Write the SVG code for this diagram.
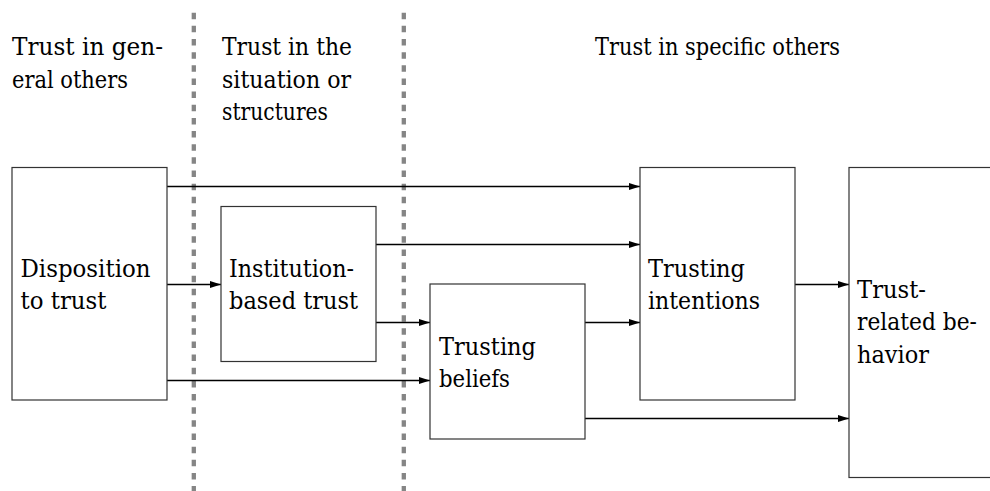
<svg xmlns="http://www.w3.org/2000/svg" width="990" height="491" viewBox="0 0 990 491">
  <style>
    .lbl { font-family: "DejaVu Serif", "Liberation Serif", serif; font-size: 23.5px; fill: #000; }
    .box { fill: #fff; stroke: #333; stroke-width: 1.2; }
    .sep { stroke: #858585; stroke-width: 4.3; stroke-dasharray: 6.5 6.65; fill: none; }
    .edge { stroke: #000; stroke-width: 1.6; fill: none; marker-end: url(#tip); }
  </style>
  <defs>
    <marker id="tip" markerWidth="11" markerHeight="8" refX="11" refY="4" orient="auto" markerUnits="userSpaceOnUse">
      <path d="M0,0.6 L11,4 L0,7.4 Z" fill="#000"/>
    </marker>
  </defs>
  <rect width="990" height="491" fill="#fff"/>

  <!-- column separators -->
  <g id="separators">
    <line class="sep" x1="193.8" y1="12.7" x2="193.8" y2="491"/>
    <line class="sep" x1="403.8" y1="12.7" x2="403.8" y2="491"/>
  </g>

  <!-- column headings -->
  <g id="headings" class="lbl">
    <text x="12" y="55" textLength="151" lengthAdjust="spacingAndGlyphs">Trust in gen-</text>
    <text x="12" y="88" textLength="116" lengthAdjust="spacingAndGlyphs">eral others</text>
    <text x="222" y="55" textLength="130" lengthAdjust="spacingAndGlyphs">Trust in the</text>
    <text x="222" y="88" textLength="129" lengthAdjust="spacingAndGlyphs">situation or</text>
    <text x="222" y="120" textLength="106" lengthAdjust="spacingAndGlyphs">structures</text>
    <text x="595" y="55" textLength="245" lengthAdjust="spacingAndGlyphs">Trust in specific others</text>
  </g>

  <!-- connectors -->
  <g id="connectors">
    <line class="edge" x1="167" y1="186.5" x2="640" y2="186.5"/>
    <line class="edge" x1="376" y1="244.5" x2="640" y2="244.5"/>
    <line class="edge" x1="167" y1="284.5" x2="221" y2="284.5"/>
    <line class="edge" x1="376" y1="322.5" x2="430" y2="322.5"/>
    <line class="edge" x1="167" y1="380.5" x2="430" y2="380.5"/>
    <line class="edge" x1="585" y1="322.5" x2="640" y2="322.5"/>
    <line class="edge" x1="795" y1="284.5" x2="849" y2="284.5"/>
    <line class="edge" x1="585" y1="418.5" x2="849" y2="418.5"/>
  </g>

  <g id="disposition" class="lbl">
    <rect class="box" x="12" y="167.5" width="155" height="232.5"/>
    <text x="20.5" y="277" textLength="130" lengthAdjust="spacingAndGlyphs">Disposition</text>
    <text x="20.5" y="309" textLength="86" lengthAdjust="spacingAndGlyphs">to trust</text>
  </g>

  <g id="institution" class="lbl">
    <rect class="box" x="221" y="206.5" width="155" height="155"/>
    <text x="229" y="277" textLength="125" lengthAdjust="spacingAndGlyphs">Institution-</text>
    <text x="229" y="309" textLength="129" lengthAdjust="spacingAndGlyphs">based trust</text>
  </g>

  <g id="beliefs" class="lbl">
    <rect class="box" x="430" y="284" width="155" height="155"/>
    <text x="439" y="355" textLength="97" lengthAdjust="spacingAndGlyphs">Trusting</text>
    <text x="439" y="387" textLength="71" lengthAdjust="spacingAndGlyphs">beliefs</text>
  </g>

  <g id="intentions" class="lbl">
    <rect class="box" x="640" y="167.5" width="155" height="232.5"/>
    <text x="648" y="277" textLength="97" lengthAdjust="spacingAndGlyphs">Trusting</text>
    <text x="648" y="309" textLength="112" lengthAdjust="spacingAndGlyphs">intentions</text>
  </g>

  <g id="behavior" class="lbl">
    <rect class="box" x="849" y="167.5" width="160" height="310"/>
    <text x="857" y="298" textLength="69" lengthAdjust="spacingAndGlyphs">Trust-</text>
    <text x="857" y="330" textLength="120" lengthAdjust="spacingAndGlyphs">related be-</text>
    <text x="857" y="363" textLength="72" lengthAdjust="spacingAndGlyphs">havior</text>
  </g>
</svg>
